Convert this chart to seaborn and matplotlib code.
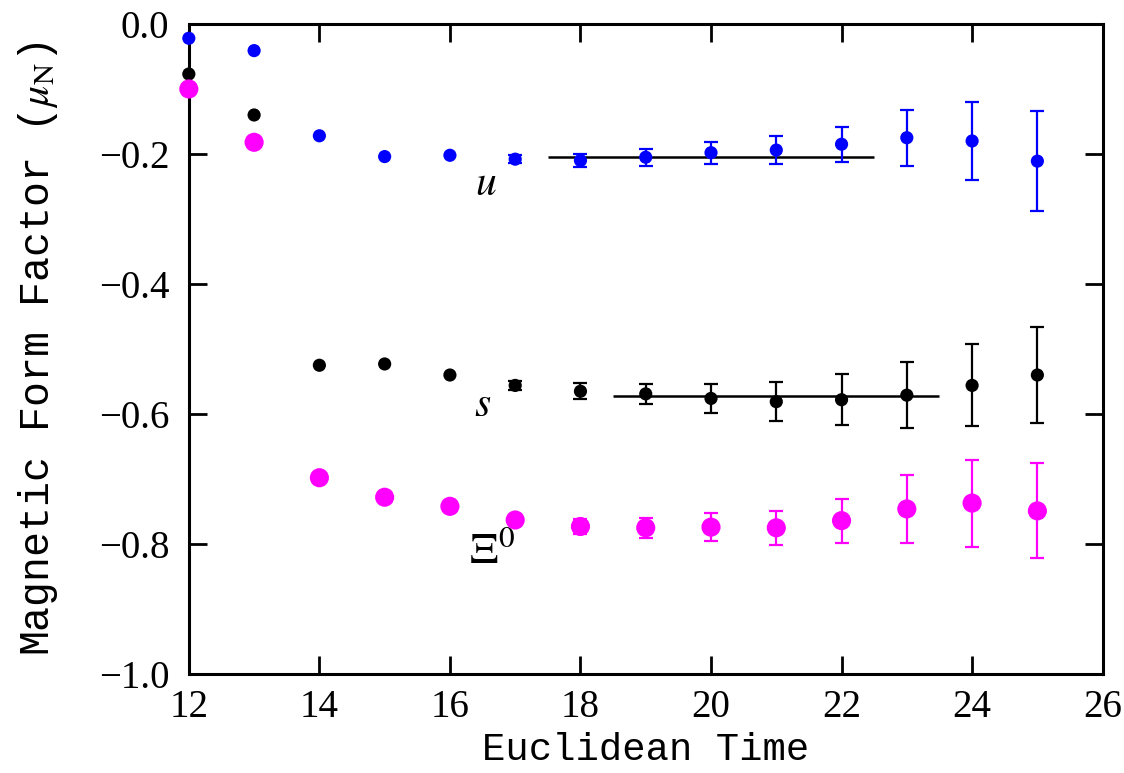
import numpy as np
import pandas as pd
import matplotlib
matplotlib.use("Agg")
import matplotlib.pyplot as plt
import seaborn as sns

# euclidean time slices
times = [12, 13, 14, 15, 16, 17, 18, 19, 20, 21, 22, 23, 24, 25]

# u quark contribution
u_vals = [-0.022, -0.041, -0.172, -0.204, -0.202, -0.208, -0.210, -0.205,
          -0.198, -0.194, -0.185, -0.175, -0.180, -0.211]
u_errs = [0, 0, 0, 0, 0, 0.006, 0.010, 0.013, 0.017, 0.022, 0.027, 0.043, 0.060, 0.077]

# s quark contribution
s_vals = [-0.077, -0.140, -0.525, -0.523, -0.540, -0.556, -0.565, -0.569,
          -0.576, -0.581, -0.578, -0.571, -0.556, -0.540]
s_errs = [0, 0, 0, 0, 0, 0.007, 0.012, 0.015, 0.022, 0.030, 0.039, 0.051, 0.063, 0.074]

# Xi0 baryon
xi_vals = [-0.100, -0.182, -0.698, -0.728, -0.742, -0.763, -0.773, -0.775,
           -0.774, -0.775, -0.764, -0.746, -0.737, -0.749]
xi_errs = [0, 0, 0, 0, 0, 0.004, 0.012, 0.015, 0.021, 0.026, 0.034, 0.052, 0.067, 0.073]

# plateau fits (value, start, end)
u_fit = [-0.204, 17.5, 22.5]
s_fit = [-0.573, 18.5, 23.5]

x_ticks = [12, 14, 16, 18, 20, 22, 24, 26]
y_ticks = [-1.0, -0.8, -0.6, -0.4, -0.2, 0.0]
y_ticklabels = ["\u22121.0", "\u22120.8", "\u22120.6", "\u22120.4", "\u22120.2", "0.0"]

series = ["u", "s", "xi"]
colors = {"u": "#0000ff", "s": "#000000", "xi": "#ff00ff"}
sizes = {"u": 90, "s": 90, "xi": 190}

df = pd.concat([
    pd.DataFrame({"t": times, "val": u_vals, "err": u_errs, "q": "u"}),
    pd.DataFrame({"t": times, "val": s_vals, "err": s_errs, "q": "s"}),
    pd.DataFrame({"t": times, "val": xi_vals, "err": xi_errs, "q": "xi"}),
])

sns.set_theme(style="ticks")
plt.rcParams['font.family'] = ['Liberation Serif', 'DejaVu Serif']
plt.rcParams['mathtext.fontset'] = 'stix'
plt.rcParams['text.color'] = 'black'
plt.rcParams['axes.labelcolor'] = 'black'
plt.rcParams['xtick.color'] = 'black'
plt.rcParams['ytick.color'] = 'black'

fig = plt.figure(figsize=(11.24, 7.73), dpi=100)
ax = fig.add_axes([0.168, 0.128, 0.813, 0.841])

# plateau fit lines
ax.hlines(u_fit[0], u_fit[1], u_fit[2], color="black", lw=1.8, zorder=2)
ax.hlines(s_fit[0], s_fit[1], s_fit[2], color="black", lw=1.8, zorder=2)

# error bars where present
for q in series:
    sub = df[(df.q == q) & (df.err > 0)]
    ax.errorbar(sub.t, sub.val, yerr=sub.err, fmt="none", ecolor=colors[q],
                elinewidth=1.6, capsize=5, capthick=1.6, zorder=3)

# points
for q in series:
    sub = df[df.q == q]
    sns.scatterplot(data=sub, x="t", y="val", color=colors[q], s=sizes[q],
                    edgecolor="none", ax=ax, zorder=4, clip_on=False, legend=False)

# labels for each curve
ax.text(16.55, -0.248, "$u$", fontsize=30, ha="center", va="center")
ax.text(16.5, -0.588, "$s$", fontsize=30, ha="center", va="center")
ax.text(16.65, -0.812, r"$\Xi^0$", fontsize=32, ha="center", va="center")

ax.set_xlim(12, 26)
ax.set_ylim(-1.0, 0.0)
ax.set_xticks(x_ticks)
ax.set_yticks(y_ticks)
ax.set_yticklabels(y_ticklabels)

ax.tick_params(direction="in", length=13, width=2, top=True, right=True,
               labelsize=28)
ax.tick_params(axis="x", pad=11)
ax.tick_params(axis="y", pad=14)
for sp in ax.spines.values():
    sp.set_linewidth(2.2)
    sp.set_color("black")

ax.set_xlabel("Euclidean Time", fontsize=28, family="Liberation Mono", labelpad=4)
ax.set_ylabel(r"Magnetic Form Factor ($\mu_{\rm N}$)", fontsize=30,
              family="Liberation Mono", labelpad=28)

fig.savefig("out.png", dpi=100)
